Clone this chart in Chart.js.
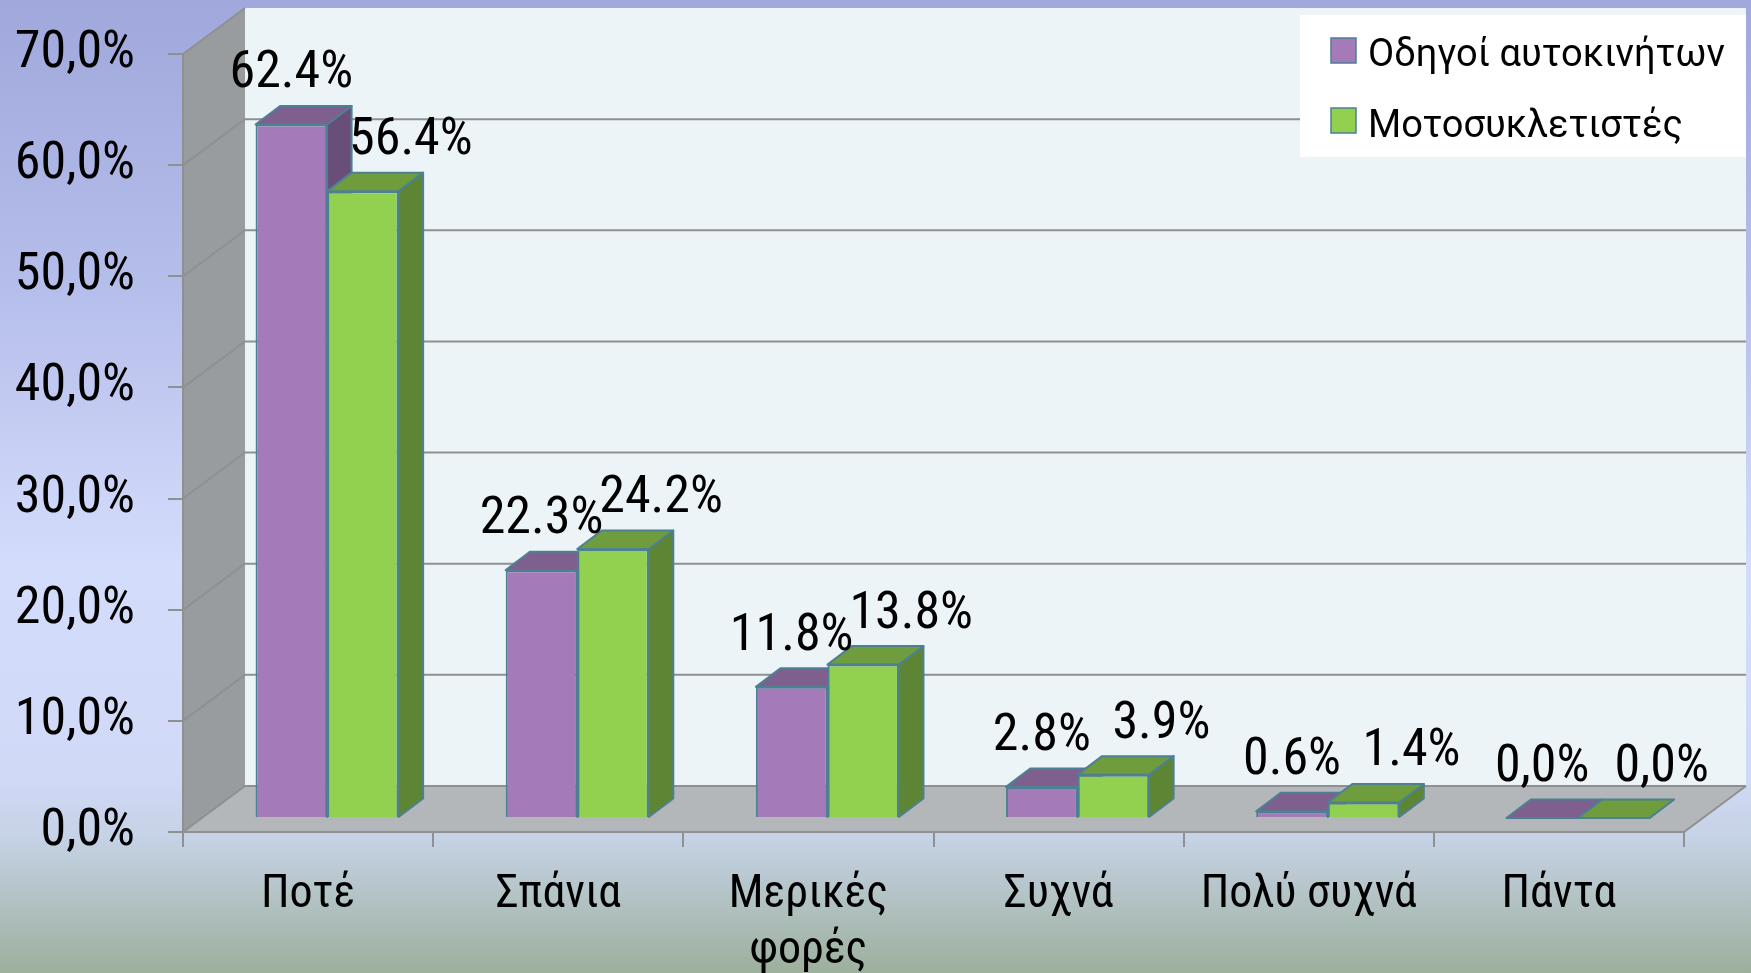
<!DOCTYPE html>
<html><head><meta charset="utf-8">
<script src="https://cdn.jsdelivr.net/npm/chart.js@4.4.1/dist/chart.umd.min.js"></script>
<style>html,body{margin:0;padding:0;background:#c8d2ec;overflow:hidden}canvas{display:block}</style>
</head><body>
<canvas id="c" width="1751" height="973"></canvas>
<script>
// ---- data ----
const categories = ['Ποτέ', 'Σπάνια', ['Μερικές', 'φορές'], 'Συχνά', 'Πολύ συχνά', 'Πάντα'];
const seriesNames = ['Οδηγοί αυτοκινήτων', 'Μοτοσυκλετιστές'];
const carDrivers = [62.4, 22.3, 11.8, 2.8, 0.6, 0.0];
const motorcyclists = [56.4, 24.2, 13.8, 3.9, 1.4, 0.0];
const carLabels = ['62.4%', '22.3%', '11.8%', '2.8%', '0.6%', '0,0%'];
const motoLabels = ['56.4%', '24.2%', '13.8%', '3.9%', '1.4%', '0,0%'];
const yTickLabels = ['0,0%', '10,0%', '20,0%', '30,0%', '40,0%', '50,0%', '60,0%', '70,0%'];

// ---- styles ----
const FONT = "'Roboto Condensed','Liberation Sans Narrow','DejaVu Sans Condensed',sans-serif";
const LEGEND_FONT = "38px Roboto, 'Liberation Sans', sans-serif";
const WALL = { dx: 62, dy: -46 };
const BAR = { dx: 24.5, dy: -18.5, ox: 19, oy: -14 };
const faceColors = [
  { front: '#a47ab9', top: '#7f5f8e', side: '#684e79' },
  { front: '#92d050', top: '#6f9d3d', side: '#5e8533' }
];
const edgeColor = '#4d8093';
const gridColor = '#8e9092';
const labelOffsets = [0, 48];
const dataLabelTexts = [carLabels, motoLabels];

function poly(ctx, pts, fill, stroke, lw) {
  ctx.beginPath();
  ctx.moveTo(pts[0][0], pts[0][1]);
  for (let i = 1; i < pts.length; i++) ctx.lineTo(pts[i][0], pts[i][1]);
  ctx.closePath();
  if (fill) { ctx.fillStyle = fill; ctx.fill(); }
  if (stroke) { ctx.strokeStyle = stroke; ctx.lineWidth = lw || 1; ctx.stroke(); }
}

const scene = {
  id: 'scene',
  beforeDraw(chart) {
    const { ctx, chartArea: a, width, height } = chart;
    const ys = chart.scales.y;
    const dx = WALL.dx, dy = WALL.dy;
    ctx.save();
    const g = ctx.createLinearGradient(0, 0, 0, height);
    g.addColorStop(0, '#a0a8dc');
    g.addColorStop(0.3, '#b6beeb');
    g.addColorStop(0.58, '#d4dcfc');
    g.addColorStop(0.8, '#d0d9f6');
    g.addColorStop(0.86, '#c6d2e6');
    g.addColorStop(1, '#9cb09c');
    ctx.fillStyle = g;
    ctx.fillRect(0, 0, width, height);
    // back wall
    ctx.fillStyle = '#ecf4f7';
    ctx.fillRect(a.left + dx, a.top + dy, a.right - a.left, a.bottom - a.top);
    // floor
    poly(ctx, [[a.left, a.bottom], [a.right, a.bottom], [a.right + dx, a.bottom + dy], [a.left + dx, a.bottom + dy]], '#b3b7b9');
    // left wall
    poly(ctx, [[a.left, a.top], [a.left + dx, a.top + dy], [a.left + dx, a.bottom + dy], [a.left, a.bottom]], '#999c9e');
    ctx.strokeStyle = gridColor;
    ctx.lineWidth = 2;
    ys.ticks.forEach(t => {
      const y = ys.getPixelForValue(t.value);
      ctx.beginPath();
      ctx.moveTo(a.left, y);
      ctx.lineTo(a.left + dx, y + dy);
      if (t.value < ys.max) ctx.lineTo(a.right + dx, y + dy);
      ctx.stroke();
    });
    // floor right edge
    ctx.beginPath();
    ctx.moveTo(a.right, a.bottom);
    ctx.lineTo(a.right + dx, a.bottom + dy);
    ctx.stroke();
    ctx.restore();
  },
  beforeDatasetsDraw(chart) {
    const ctx = chart.ctx;
    ctx.save();
    ctx.translate(BAR.ox, BAR.oy);
    chart.data.datasets.forEach((ds, i) => {
      const meta = chart.getDatasetMeta(i);
      meta.data.forEach(el => {
        const p = el.getProps(['x', 'y', 'base', 'width'], true);
        const l = p.x - p.width / 2, r = p.x + p.width / 2, t = p.y, b = p.base;
        ctx.lineJoin = 'round';
        poly(ctx, [[r, t], [r + BAR.dx, t + BAR.dy], [r + BAR.dx, b + BAR.dy], [r, b]], faceColors[i].side, edgeColor, 2);
        poly(ctx, [[l, t], [r, t], [r + BAR.dx, t + BAR.dy], [l + BAR.dx, t + BAR.dy]], faceColors[i].top, edgeColor, 2);
      });
    });
  },
  afterDatasetsDraw(chart) {
    const ctx = chart.ctx;
    ctx.restore();
    ctx.save();
    ctx.font = '52px ' + FONT;
    ctx.fillStyle = '#000';
    ctx.textAlign = 'center';
    ctx.textBaseline = 'alphabetic';
    chart.data.datasets.forEach((ds, i) => {
      const meta = chart.getDatasetMeta(i);
      meta.data.forEach((el, j) => {
        const p = el.getProps(['x', 'y'], true);
        ctx.fillText(dataLabelTexts[i][j], p.x + BAR.ox + labelOffsets[i], p.y + BAR.oy - 37);
      });
    });
    // legend
    const lx = 1300, ly = 15, lw = 446, lh = 142;
    ctx.fillStyle = '#ffffff';
    ctx.fillRect(lx, ly, lw, lh);
    ctx.textAlign = 'left';
    ctx.font = LEGEND_FONT;
    chart.data.datasets.forEach((ds, i) => {
      const sy = ly + 23 + i * 70;
      ctx.fillStyle = ds.backgroundColor;
      ctx.fillRect(lx + 31, sy, 25, 25);
      ctx.strokeStyle = edgeColor;
      ctx.lineWidth = 1.5;
      ctx.strokeRect(lx + 31, sy, 25, 25);
      ctx.fillStyle = '#000';
      ctx.fillText(ds.label, lx + 68, ly + 51 + i * 71);
    });
    ctx.restore();
  }
};

new Chart(document.getElementById('c'), {
  type: 'bar',
  data: {
    labels: categories,
    datasets: [
      { label: seriesNames[0], data: carDrivers, backgroundColor: faceColors[0].front, borderColor: edgeColor, borderWidth: 2, clip: false },
      { label: seriesNames[1], data: motorcyclists, backgroundColor: faceColors[1].front, borderColor: edgeColor, borderWidth: 2, clip: false }
    ]
  },
  options: {
    responsive: false,
    animation: false,
    layout: { padding: { left: 0, right: 67, top: 54, bottom: 0 } },
    datasets: { bar: { categoryPercentage: 0.572, barPercentage: 1 } },
    plugins: { legend: { display: false }, tooltip: { enabled: false } },
    scales: {
      x: {
        grid: { drawOnChartArea: false, tickLength: 15, color: gridColor, lineWidth: 2, offset: true },
        border: { color: gridColor, width: 2 },
        ticks: { font: { family: FONT, size: 46, lineHeight: 1.22 }, color: '#000', padding: 20, maxRotation: 0, autoSkip: false },
        afterFit(s) { s.height = 141; }
      },
      y: {
        min: 0, max: 70,
        ticks: { stepSize: 10, callback: v => yTickLabels[Math.round(v / 10)], font: { family: FONT, size: 52 }, color: '#000', padding: 33 },
        grid: { drawOnChartArea: false, tickLength: 15, color: gridColor, lineWidth: 2 },
        border: { color: gridColor, width: 2 },
        afterFit(s) { s.width = 183; s.paddingTop = 0; s.paddingBottom = 0; }
      }
    }
  },
  plugins: [scene]
});
</script>
</body></html>
